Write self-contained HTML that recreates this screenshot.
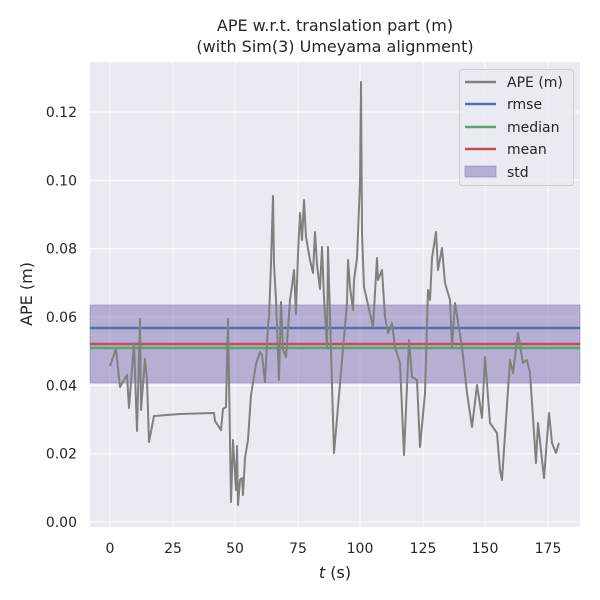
<!DOCTYPE html>
<html><head><style>body{margin:0;background:#fff}svg{display:block}</style></head><body>
<svg width="600" height="600" xmlns="http://www.w3.org/2000/svg" font-family="DejaVu Sans, Liberation Sans, sans-serif">
<rect x="90" y="62" width="490" height="465" fill="#EAEAF2"/>
<g stroke="#fff" stroke-width="1">
<line x1="110" y1="62" x2="110" y2="527"/><line x1="173" y1="62" x2="173" y2="527"/><line x1="235" y1="62" x2="235" y2="527"/><line x1="298" y1="62" x2="298" y2="527"/><line x1="360" y1="62" x2="360" y2="527"/><line x1="423" y1="62" x2="423" y2="527"/><line x1="485" y1="62" x2="485" y2="527"/><line x1="548" y1="62" x2="548" y2="527"/>
<line x1="90" y1="522" x2="580" y2="522"/><line x1="90" y1="453.7" x2="580" y2="453.7"/><line x1="90" y1="385.3" x2="580" y2="385.3"/><line x1="90" y1="317" x2="580" y2="317"/><line x1="90" y1="248.7" x2="580" y2="248.7"/><line x1="90" y1="180.3" x2="580" y2="180.3"/><line x1="90" y1="112" x2="580" y2="112"/>
</g>
<rect x="90" y="305" width="490" height="78" fill="#8172B3" fill-opacity="0.5" stroke="#8172B3" stroke-opacity="0.5"/>
<line x1="90" y1="328" x2="580" y2="328" stroke="#4C72B0" stroke-width="2.5"/>
<line x1="90" y1="348" x2="580" y2="348" stroke="#55A868" stroke-width="2.5"/>
<line x1="90" y1="344" x2="580" y2="344" stroke="#C44E52" stroke-width="2.5"/>
<polyline fill="none" stroke="#808080" stroke-width="2" stroke-linejoin="round" points="110,366 116,349 120,387 124,380 127,375 129,408 134,343 137,431 140,319 141,410 145,359 147,380 149,442 154,416 180,414 214,413 215,421 221,430 223,409 226,407 228,319 231,502 233,440 236,490 237,446 238,505 240,480 242,478 243,495 245,458 248,440 251,395 256,364 260,352 262,355 265,382 268,325 269,318 271,264 273,196 274,264 276,300 279,380 281,302 283,350 286,357 290,300 292,286 294,270 296,314 298,254 300,213 302,240 304,200 306,237 310,260 313,273 315,232 317,265 320,289 322,247 324,298 327,347 328,247 334,453 347,303 348,260 350,287 353,310 354,280 357,258 360,183 361,82 362,233 364,287 373,327 377,258 378,280 382,270 385,317 388,333 392,323 395,347 400,363 404,455 409,340 412,377 417,380 420,447 425,393 428,290 430,300 432,258 436,232 438,270 442,248 445,283 450,300 452,347 455,303 462,347 467,393 472,427 477,385 482,418 485,357 490,423 497,433 500,470 502,480 510,360 513,373 518,333 523,363 527,360 530,373 536,463 538,423 544,478 549,413 552,443 556,453 559,443"/>
<g font-size="14" fill="#262626" text-anchor="end">
<text x="77" y="527">0.00</text><text x="77" y="458.7">0.02</text><text x="77" y="390.3">0.04</text><text x="77" y="322">0.06</text><text x="77" y="253.7">0.08</text><text x="77" y="185.3">0.10</text><text x="77" y="117">0.12</text>
</g>
<g font-size="14" fill="#262626" text-anchor="middle">
<text x="110" y="553">0</text><text x="173" y="553">25</text><text x="235" y="553">50</text><text x="298" y="553">75</text><text x="360" y="553">100</text><text x="423" y="553">125</text><text x="485" y="553">150</text><text x="548" y="553">175</text>
<text x="335" y="578" font-size="16"><tspan font-style="italic">t</tspan> (s)</text>
<text x="335" y="31" font-size="16">APE w.r.t. translation part (m)</text>
<text x="335" y="52" font-size="16">(with Sim(3) Umeyama alignment)</text>
</g>
<text transform="translate(32,294) rotate(-90)" font-size="16" fill="#262626" text-anchor="middle">APE (m)</text>
<rect x="459.5" y="69.5" width="114" height="116" rx="3" fill="#EAEAF2" fill-opacity="0.8" stroke="#ccc"/>
<g stroke-width="2.5">
<line x1="465" y1="82" x2="496" y2="82" stroke="#808080"/>
<line x1="465" y1="104" x2="496" y2="104" stroke="#4C72B0"/>
<line x1="465" y1="127" x2="496" y2="127" stroke="#55A868"/>
<line x1="465" y1="149" x2="496" y2="149" stroke="#C44E52"/>
</g>
<rect x="465" y="166" width="31" height="11" fill="#8172B3" fill-opacity="0.5" stroke="#8172B3" stroke-opacity="0.5"/>
<g font-size="14" fill="#262626">
<text x="507" y="87">APE (m)</text><text x="507" y="109">rmse</text><text x="507" y="132">median</text><text x="507" y="154">mean</text><text x="507" y="177">std</text>
</g>
</svg>
</body></html>
